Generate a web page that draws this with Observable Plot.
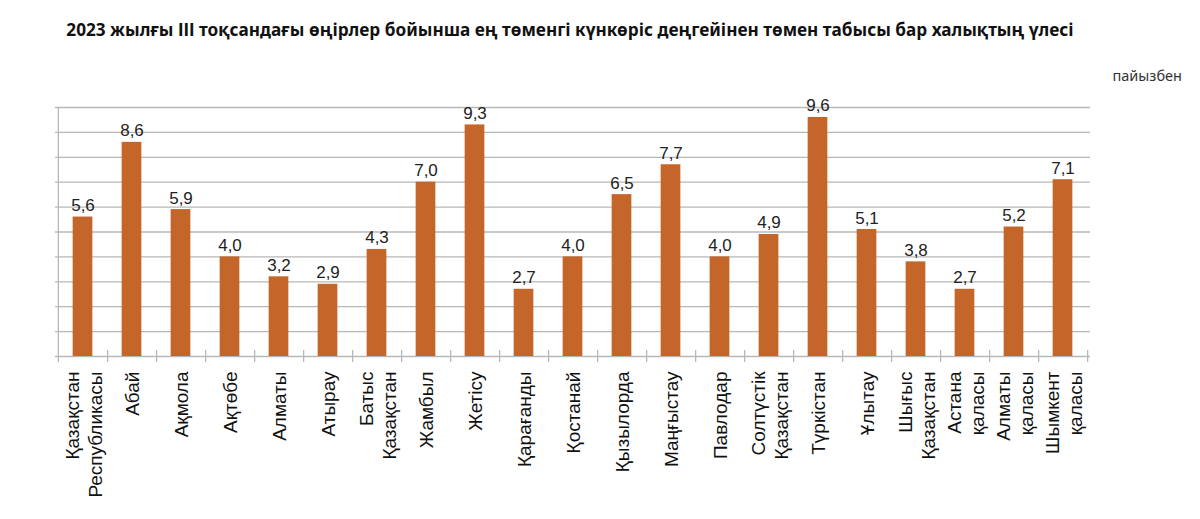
<!DOCTYPE html>
<html>
<head>
<meta charset="utf-8">
<script src="https://cdn.jsdelivr.net/npm/d3@7"></script>
<script src="https://cdn.jsdelivr.net/npm/@observablehq/plot@0.6"></script>
<style>
  html, body { margin: 0; padding: 0; background: #fff; }
  #wrap { position: relative; width: 1200px; height: 519px; overflow: hidden; }
  #title { position: absolute; left: 0; width: 1140px; top: 18px; text-align: center;
    font-family: "Noto Sans", sans-serif; font-weight: bold; font-size: 17.2px; color: #111; }
  #unit { position: absolute; right: 18px; top: 65px; font-family: "Noto Sans", sans-serif;
    font-size: 14.5px; color: #333; }
  #chart { position: absolute; left: 0; top: 0; }
</style>
</head>
<body>
<div id="wrap">
  <div id="title">2023 жылғы ІІІ тоқсандағы өңірлер бойынша ең төменгі күнкөріс деңгейінен төмен табысы бар халықтың үлесі</div>
  <div id="unit">пайызбен</div>
  <div id="chart"></div>
</div>
<script>
const categories = [
  "Қазақстан\nРеспубликасы", "Абай", "Ақмола", "Ақтөбе", "Алматы", "Атырау",
  "Батыс\nҚазақстан", "Жамбыл", "Жетісу", "Қарағанды", "Қостанай", "Қызылорда",
  "Маңғыстау", "Павлодар", "Солтүстік\nҚазақстан", "Түркістан", "Ұлытау",
  "Шығыс\nҚазақстан", "Астана\nқаласы", "Алматы\nқаласы", "Шымкент\nқаласы"
];
const values = [5.6, 8.6, 5.9, 4.0, 3.2, 2.9, 4.3, 7.0, 9.3, 2.7, 4.0, 6.5, 7.7, 4.0, 4.9, 9.6, 5.1, 3.8, 2.7, 5.2, 7.1];
const yGrid = [0, 1, 2, 3, 4, 5, 6, 7, 8, 9, 10];

const data = categories.map((c, i) => ({cat: c, value: values[i]}));

const W = 1200, H = 519, ML = 55, MR = 110, MT = 107, MB = 163;
const bw = (W - ML - MR) / categories.length;
const plotH = H - MT - MB;
const barColor = "#C4652A";
const gridColor = "#b8b8b8";

const chart = Plot.plot({
  width: W, height: H,
  marginLeft: ML, marginRight: MR, marginTop: MT, marginBottom: MB,
  style: {fontFamily: "'Liberation Sans', Arial, sans-serif", background: "transparent"},
  x: {domain: categories, padding: 0, axis: null},
  y: {domain: [0, 10], axis: null},
  marks: [
    Plot.ruleY(yGrid, {stroke: gridColor, strokeWidth: 1.3}),
    Plot.ruleX([categories[0]], {dx: -bw / 2, insetBottom: -6, stroke: gridColor, strokeWidth: 1.3}),
    Plot.ruleX(categories, {dx: bw / 2, insetTop: plotH - 6, insetBottom: -6, stroke: gridColor, strokeWidth: 1.3}),
    Plot.barY(data, {x: "cat", y: "value", fill: barColor, insetLeft: (bw - 20) / 2, insetRight: (bw - 20) / 2}),
    Plot.text(data, {x: "cat", y: "value", text: d => d.value.toFixed(1).replace(".", ","),
      dy: -6, lineAnchor: "bottom", fontSize: 17, fill: "#222"}),
    Plot.text(data, {x: "cat", frameAnchor: "bottom", text: "cat", rotate: -90, textAnchor: "end",
      lineAnchor: "middle", lineHeight: 1.2, dy: 15, fontSize: 19, fill: "#111"})
  ]
});
document.getElementById("chart").appendChild(chart);
</script>
</body>
</html>
